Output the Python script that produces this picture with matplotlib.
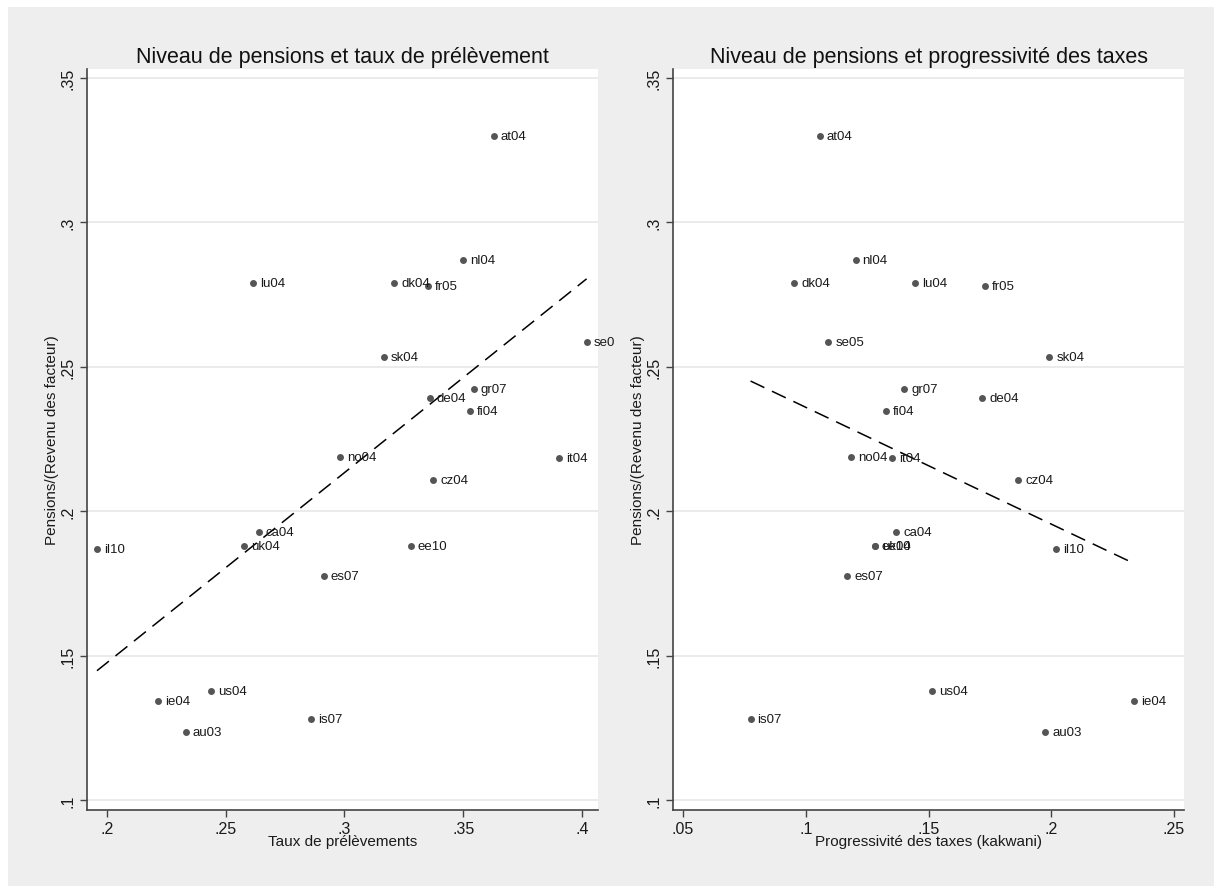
import numpy as np
import matplotlib
matplotlib.use('Agg')
import matplotlib.pyplot as plt
from matplotlib.patches import Rectangle
from matplotlib.ticker import FuncFormatter

plt.rcParams['font.family'] = ['Liberation Sans', 'DejaVu Sans']

# country / year codes and values
countries = ['at04', 'nl04', 'dk04', 'lu04', 'fr05', 'se05', 'sk04', 'gr07', 'de04', 'fi04', 'no04',
             'it04', 'cz04', 'ca04', 'uk04', 'ee10', 'il10', 'es07', 'us04', 'ie04', 'is07', 'au03']
pensions = [0.330, 0.287, 0.279, 0.279, 0.278, 0.2586, 0.2532, 0.2422, 0.2393, 0.2346, 0.2186,
            0.2183, 0.2107, 0.1928, 0.1878, 0.1878, 0.1868, 0.1775, 0.1377, 0.1344, 0.1279, 0.1236]
taux = [0.363, 0.350, 0.321, 0.2616, 0.335, 0.402, 0.3165, 0.3544, 0.336, 0.353, 0.2983,
        0.3903, 0.3375, 0.2639, 0.2579, 0.328, 0.1958, 0.2913, 0.2438, 0.2216, 0.2859, 0.2331]
kakwani = [0.1058, 0.1203, 0.0953, 0.1444, 0.1729, 0.1092, 0.1992, 0.1402, 0.172, 0.1325, 0.1184,
           0.1353, 0.1866, 0.1368, 0.1282, 0.1282, 0.202, 0.1169, 0.1513, 0.2336, 0.0775, 0.1976]

yticks = [0.1, 0.15, 0.2, 0.25, 0.3, 0.35]
xticks_left = [0.2, 0.25, 0.3, 0.35, 0.4]
xticks_right = [0.05, 0.1, 0.15, 0.2, 0.25]

titles = ['Niveau de pensions et taux de prélèvement', 'Niveau de pensions et progressivité des taxes']
xlabels = ['Taux de prélèvements', 'Progressivité des taxes (kakwani)']
ylabel = 'Pensions/(Revenu des facteur)'

W, H = 1214, 887
fig = plt.figure(figsize=(W / 100, H / 100), dpi=100)
fig.patch.set_facecolor('white')
fig.patches.append(Rectangle((8 / W, 0), 1, 1 - 8 / H, transform=fig.transFigure,
                             facecolor='#eeeeee', edgecolor='none', zorder=-10))

stata = FuncFormatter(lambda v, p: ('%g' % v).lstrip('0'))

panels = [(87, taux, xticks_left, (0.1916, 0.4068)),
          (673, kakwani, xticks_right, (0.0459, 0.2541))]

for i, (left, xs, xt, xlim) in enumerate(panels):
    ax = fig.add_axes([left / W, (H - 811) / H, 511 / W, 741 / H])
    ax.set_facecolor('white')
    ax.set_xlim(*xlim)
    ax.set_ylim(0.0965, 0.3531)

    # grid
    for v in yticks:
        ax.axhline(v, color='#e8e8e8', lw=1.2, zorder=0)

    ax.plot(xs, pensions, 'o', color='#555555', ms=5, mec='none', zorder=3)

    # labels may run a little past the plot region, then get cut (like "se0")
    clip = Rectangle((left / W, 0), (511 + 17) / W, 1, transform=fig.transFigure)
    for c, x, y in zip(countries, xs, pensions):
        t = ax.annotate(c, (x, y), xytext=(5, 0), textcoords='offset points', va='center', ha='left',
                        fontsize=9.5, color='#1a1a1a', annotation_clip=False)
        t.set_clip_path(clip)

    # linear fit
    b, a = np.polyfit(xs, pensions, 1)
    xx = np.array([min(xs), max(xs)])
    ln, = ax.plot(xx, a + b * xx, color='black', lw=1.1, zorder=2)
    ln.set_dashes((10, 5.5))

    ax.set_xticks(xt)
    ax.set_yticks(yticks)
    ax.xaxis.set_major_formatter(stata)
    ax.yaxis.set_major_formatter(stata)
    ax.tick_params(length=5, width=1, color='#444444', labelsize=11.5, pad=3, labelcolor='#1a1a1a')
    for lab in ax.get_yticklabels():
        lab.set_rotation(90)
        lab.set_va('center')

    for s in ['top', 'right']:
        ax.spines[s].set_visible(False)
    for s in ['left', 'bottom']:
        ax.spines[s].set_color('#444444')
        ax.spines[s].set_linewidth(1.2)

    ax.set_title(titles[i], fontsize=15.5, pad=5, color='#111111')
    ax.set_xlabel(xlabels[i], fontsize=11, color='#1a1a1a')
    ax.xaxis.set_label_coords(0.5, -0.042)
    ax.xaxis.label.set_va('center')
    ax.set_ylabel(ylabel, fontsize=11, color='#1a1a1a')
    ax.yaxis.set_label_coords(-0.068, 0.5)
    ax.yaxis.label.set_va('center')

plt.savefig('out.png', dpi=100, facecolor=fig.get_facecolor())
